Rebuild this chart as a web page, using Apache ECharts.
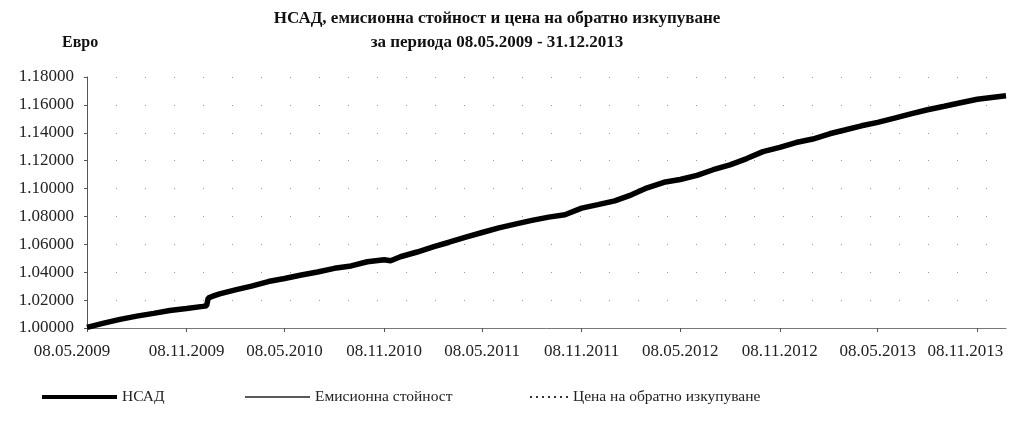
<!DOCTYPE html>
<html>
<head>
<meta charset="utf-8">
<script src="https://cdn.jsdelivr.net/npm/echarts@6/dist/echarts.min.js"></script>
<style>
html,body{margin:0;padding:0;background:#fff;}
#chart{width:1018px;height:421px;}
</style>
</head>
<body>
<div id="chart"></div>
<script>
// Dates (YYYY-MM-DD) of the points
const dates = [
 '2009-05-08','2009-06-08','2009-07-08','2009-08-08','2009-09-08','2009-10-08','2009-11-08','2009-12-08','2009-12-15','2009-12-18','2009-12-28',
 '2010-01-08','2010-02-08','2010-03-08','2010-04-08','2010-05-08','2010-06-08','2010-07-08','2010-08-08','2010-09-08','2010-10-08','2010-11-08','2010-11-20','2010-12-08',
 '2011-01-08','2011-02-08','2011-03-08','2011-04-08','2011-05-08','2011-06-08','2011-07-08','2011-08-08','2011-09-08','2011-10-08','2011-11-08','2011-12-08',
 '2012-01-08','2012-02-08','2012-03-08','2012-04-08','2012-05-08','2012-06-08','2012-07-08','2012-08-08','2012-09-08','2012-10-08','2012-11-08','2012-12-08',
 '2013-01-08','2013-02-08','2013-03-08','2013-04-08','2013-05-08','2013-06-08','2013-07-08','2013-08-08','2013-09-08','2013-10-08','2013-11-08','2013-12-08','2013-12-31'
];
// НСАД values
const navValues = [
 1.0005,1.0035,1.0062,1.0085,1.0105,1.0125,1.0140,1.0155,1.0160,1.0215,1.0230,
 1.0245,1.0275,1.0300,1.0333,1.0355,1.0380,1.0402,1.0428,1.0445,1.0475,1.0490,1.0482,1.0511,
 1.0545,1.0583,1.0615,1.0652,1.0685,1.0718,1.0745,1.0772,1.0795,1.0812,1.0860,1.0885,
 1.0912,1.0955,1.1005,1.1045,1.1065,1.1095,1.1135,1.1170,1.1215,1.1265,1.1295,1.1330,
 1.1355,1.1393,1.1420,1.1450,1.1475,1.1505,1.1535,1.1565,1.1590,1.1615,1.1640,1.1655,1.1665
];
// Емисионна стойност and Цена на обратно изкупуване coincide with НСАД in the picture
const issueValues = navValues;
const redemptionValues = navValues;

const seriesNames = ['НСАД','Емисионна стойност','Цена на обратно изкупуване'];
const xTickLabels = ['2009-05-08','2009-11-08','2010-05-08','2010-11-08','2011-05-08','2011-11-08','2012-05-08','2012-11-08','2013-05-08','2013-11-08'];
const yTicks = {min:1.00, max:1.18, step:0.02};
const titleLines = ['НСАД, емисионна стойност и цена на обратно изкупуване','за периода 08.05.2009 - 31.12.2013'];
const yAxisName = 'Евро';
const startDate = '2009-05-08', endDate = '2013-12-31';

function ts(s){const p=s.split('-').map(Number);return Date.UTC(p[0],p[1]-1,p[2]);}
function fmt(v){const d=new Date(v);const dd=String(d.getUTCDate()).padStart(2,'0');const mm=String(d.getUTCMonth()+1).padStart(2,'0');return dd+'.'+mm+'.'+d.getUTCFullYear();}
const pts = arr => dates.map((d,i)=>[ts(d),arr[i]]);
const tickVals = xTickLabels.map(ts);
const FONT = '"Liberation Serif","Times New Roman",serif';
const legendText = {fontFamily:FONT,fontSize:15.5,color:'#222'};
const dotPath = 'path://M0,0h2v2h-2zM6,0h2v2h-2zM12,0h2v2h-2zM18,0h2v2h-2zM24,0h2v2h-2zM30,0h2v2h-2zM36,0h2v2h-2z';

const chart = echarts.init(document.getElementById('chart'), null, {renderer:'canvas'});
chart.setOption({
  animation:false,
  backgroundColor:'#fff',
  title:{
    text: titleLines.join('\n'),
    left:492, top:2, textAlign:'center',
    textStyle:{fontFamily:FONT,fontSize:17,fontWeight:'bold',color:'#111',lineHeight:24}
  },
  graphic:[{type:'text',left:62,top:35,style:{text:yAxisName,fontFamily:FONT,fontSize:16,fontWeight:'bold',fill:'#111'}}],
  grid:{left:87,right:12,top:77,bottom:93,containLabel:false},
  legend:[
    {data:[{name:seriesNames[0],icon:'rect'}],left:42,top:389,padding:0,itemWidth:75,itemHeight:4,itemGap:4,textStyle:legendText,itemStyle:{color:'#000',borderWidth:0},lineStyle:{width:0}},
    {data:[{name:seriesNames[1],icon:'rect'}],left:245,top:389,padding:0,itemWidth:65,itemHeight:1.3,textStyle:legendText,itemStyle:{color:'#222',borderWidth:0},lineStyle:{width:0}},
    {data:[{name:seriesNames[2],icon:dotPath}],left:530,top:389,padding:0,itemWidth:38,itemHeight:2,textStyle:legendText,itemStyle:{color:'#333',borderWidth:0},lineStyle:{width:0}}
  ],
  xAxis:{
    type:'value', min:ts(startDate), max:ts(endDate),
    axisLine:{lineStyle:{color:'#777',width:1}},
    axisTick:{show:true,length:4,customValues:tickVals,lineStyle:{color:'#555'}},
    axisLabel:{
      customValues:tickVals,
      formatter:(v)=>{const t=fmt(v); if(v===tickVals[0]) return '{first|'+t+'}'; if(v===tickVals[tickVals.length-1]) return '{last|'+t+'}'; return t;},
      rich:{first:{padding:[0,30,0,0],fontFamily:FONT,fontSize:17,color:'#222'},last:{padding:[0,24,0,0],fontFamily:FONT,fontSize:17,color:'#222'}},
      margin:15,fontFamily:FONT,fontSize:17,color:'#222',hideOverlap:false,showMinLabel:true,showMaxLabel:true
    },
    splitLine:{show:false}
  },
  yAxis:{
    type:'value', min:yTicks.min, max:yTicks.max, interval:yTicks.step,
    axisLine:{show:true,lineStyle:{color:'#555',width:1}},
    axisTick:{show:true,length:3,lineStyle:{color:'#555'}},
    axisLabel:{formatter:v=>v.toFixed(5),margin:13,fontFamily:FONT,fontSize:17,color:'#222'},
    splitLine:{show:true,lineStyle:{color:'#999',width:1,type:[1,28]}}
  },
  series:[
    {name:seriesNames[2],type:'line',data:pts(redemptionValues),showSymbol:false,symbol:'none',lineStyle:{color:'#222',width:1.2,type:[2,3]},itemStyle:{color:'#222'},z:1},
    {name:seriesNames[1],type:'line',data:pts(issueValues),showSymbol:false,symbol:'none',lineStyle:{color:'#222',width:1},itemStyle:{color:'#222'},z:2},
    {name:seriesNames[0],type:'line',data:pts(navValues),showSymbol:false,symbol:'none',lineStyle:{color:'#000',width:5.5},itemStyle:{color:'#000'},z:3}
  ]
});
</script>
</body>
</html>
